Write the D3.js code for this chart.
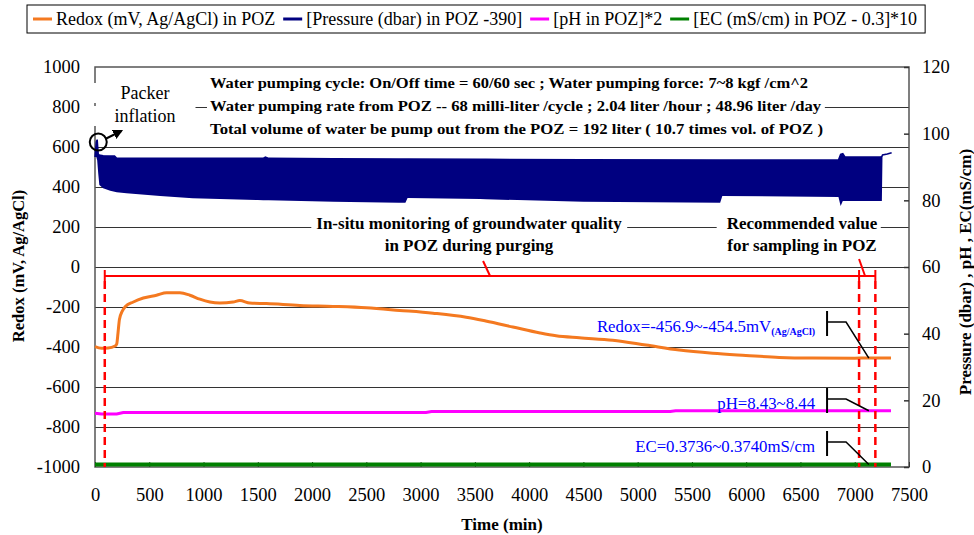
<!DOCTYPE html>
<html>
<head>
<meta charset="utf-8">
<script src="https://cdn.jsdelivr.net/npm/d3@7"></script>
<style>
  body { margin: 0; background: #fff; }
  svg { display: block; font-family: "Liberation Serif", "Times New Roman", serif; }
</style>
</head>
<body>
<svg id="chart" width="974" height="535"></svg>
<script>
// ---------- axis ticks ----------
const timeTicks  = d3.range(0, 7501, 500);      // Time (min)
const redoxTicks = d3.range(-1000, 1001, 200);  // left axis, mV
const rightTicks = d3.range(0, 121, 20);        // right axis

// ---------- Redox (mV, Ag/AgCl) in POZ ----------
const redoxTime  = [0, 60, 120, 185, 200, 212, 225, 250, 280, 353, 445, 567, 660, 782, 874, 966, 1058,
                    1150, 1273, 1334, 1426, 1580, 1886, 2193, 2500, 2807, 3114, 3420, 3600, 3850, 4100,
                    4248, 4463, 4770, 5077, 5383, 5690, 5997, 6304, 6611, 7000, 7100, 7334];
const redoxValue = [-398, -406, -405, -395, -385, -330, -262, -222, -198, -175, -155, -141, -129, -129,
                    -141, -161, -175, -180, -175, -168, -180, -183, -192, -197, -204, -217, -231, -251,
                    -270, -300, -330, -344, -354, -366, -390, -415, -431, -442, -452, -455.5, -456.2,
                    -455.0, -455.3];

// ---------- Pressure (dbar) in POZ: pumping-cycle envelope ----------
const pressTime = [0, 12, 20, 30, 40, 75, 140, 180, 200, 290, 600, 900, 1500, 1550, 1570, 1600, 2200,
                   2800, 2860, 2880, 3550, 3600, 4500, 5760, 5780, 6850, 6870, 6890, 6910, 7240, 7250,
                   7256, 7300, 7340];
const pressHigh = [483.0, 487.5, 488.2, 483.8, 483.6, 483.4, 483.3, 483.3, 482.6, 482.6, 482.6, 482.6,
                   482.6, 482.6, 483.0, 482.6, 482.5, 482.4, 482.4, 482.4, 482.3, 482.3, 482.2, 482.1,
                   482.1, 482.1, 483.8, 484.0, 483.0, 483.0, 483.2, 483.6, 483.9, 484.3];
const pressLow  = [483.0, 483.0, 482.0, 478.0, 474.6, 473.6, 472.9, 472.6, 472.4, 472.1, 471.3, 470.6,
                   470.1, 470.0, 470.0, 470.0, 469.6, 469.3, 469.3, 470.7, 470.4, 470.3, 469.6, 469.3,
                   471.3, 471.0, 468.3, 469.8, 469.8, 469.8, 469.8, 483.6, 483.9, 484.3];

// ---------- pH in POZ ----------
const phTime  = [0, 60, 200, 260, 3050, 3100, 5300, 5350, 7334];
const phValue = [8.07, 7.95, 7.95, 8.18, 8.18, 8.33, 8.33, 8.43, 8.44];

// ---------- EC (mS/cm) in POZ ----------
const ecTime  = [0, 380, 400, 420, 520, 540, 560, 7334];
const ecValue = [0.3736, 0.3736, 0.3752, 0.3736, 0.3736, 0.3750, 0.3737, 0.3738];

// ---------- purging / sampling windows (min) ----------
const purgeStart = 90, sampleStart = 7040, sampleEnd = 7190, windowLevel = -45;

// ---------- texts ----------
const legendLabels = ["Redox (mV, Ag/AgCl) in POZ", "[Pressure (dbar) in POZ -390]",
                      "[pH in POZ]*2", "[EC (mS/cm) in POZ - 0.3]*10"];
const legendColors = ["#F47920", "#000080", "#FF00FF", "#008000"];
const headerLines = [
  "Water pumping cycle: On/Off time = 60/60 sec ; Water pumping force: 7~8 kgf /cm^2",
  "Water pumping rate from POZ -- 68 milli-liter /cycle ; 2.04 liter /hour ; 48.96 liter /day",
  "Total volume of water be pump out from the POZ  = 192 liter ( 10.7 times vol. of POZ )"
];
const headerWidths = [598, 611, 613];

// ---------- layout ----------
const svg = d3.select("#chart");
const L = 95, R = 909, T = 67, B = 467;
const x  = d3.scaleLinear().domain([0, 7500]).range([L, R]);
const yL = d3.scaleLinear().domain([-1000, 1000]).range([B, T]);
const yR = d3.scaleLinear().domain([0, 120]).range([B, T]);

const redox = redoxTime.map((t, i) => ({ t, v: redoxValue[i] }));
const press = pressTime.map((t, i) => ({ t, hi: pressHigh[i] - 390, lo: pressLow[i] - 390 }));
const ph    = phTime.map((t, i) => ({ t, v: phValue[i] * 2 }));
const ec    = ecTime.map((t, i) => ({ t, v: (ecValue[i] - 0.3) * 10 }));

// gridlines
svg.append("g").selectAll("line")
  .data(redoxTicks.filter(v => v > -1000 && v < 1000))
  .join("line")
  .attr("x1", L).attr("x2", R)
  .attr("y1", d => yL(d)).attr("y2", d => yL(d))
  .attr("stroke", "#333").attr("stroke-width", 1).attr("shape-rendering", "crispEdges");

// plot frame
svg.append("rect").attr("x", L).attr("y", T).attr("width", R - L).attr("height", B - T)
  .attr("fill", "none").attr("stroke", "#555").attr("stroke-width", 1.5);

// axes
const plain = d => String(d);
const tickFont = "18.5px";
const gl = svg.append("g").attr("transform", `translate(${L},0)`)
  .call(d3.axisLeft(yL).tickValues(redoxTicks).tickFormat(plain).tickSize(0).tickPadding(15));
const gr = svg.append("g").attr("transform", `translate(${R},0)`)
  .call(d3.axisRight(yR).tickValues(rightTicks).tickFormat(plain).tickSizeInner(-5).tickSizeOuter(0).tickPadding(13));
const gb = svg.append("g").attr("transform", `translate(0,${B})`)
  .call(d3.axisBottom(x).tickValues(timeTicks).tickFormat(plain).tickSizeInner(-5).tickSizeOuter(0).tickPadding(21));
[gl, gr, gb].forEach(g => {
  g.attr("font-family", null).attr("font-size", tickFont);
  g.select(".domain").remove();
  g.selectAll(".tick line").attr("stroke", "#333");
  g.selectAll("text").attr("fill", "#000");
});
gr.selectAll(".tick line").attr("stroke-width", 1.5);

// axis titles
svg.append("text").attr("transform", "translate(24,266) rotate(-90)")
  .attr("text-anchor", "middle").attr("font-weight", "bold").attr("font-size", "16.5px")
  .text("Redox (mV, Ag/AgCl)");
svg.append("text").attr("transform", "translate(971,272) rotate(-90)")
  .attr("text-anchor", "middle").attr("font-weight", "bold").attr("font-size", "17px")
  .text("Pressure (dbar) , pH , EC(mS/cm)");
svg.append("text").attr("x", 502).attr("y", 530)
  .attr("text-anchor", "middle").attr("font-weight", "bold").attr("font-size", "17px")
  .text("Time (min)");

// text block helper: white box behind lines of text
function textBlock(lines, opts) {
  const g = svg.append("g");
  const bg = g.append("g");
  const tx = g.append("g");
  lines.forEach((s, i) => {
    const t = tx.append("text").attr("x", opts.x).attr("y", opts.y[i])
      .attr("text-anchor", opts.anchor || "start")
      .attr("font-weight", opts.weight || "normal")
      .attr("font-size", opts.size)
      .text(s);
    if (opts.widths) t.attr("textLength", opts.widths[i]).attr("lengthAdjust", "spacingAndGlyphs");
  });
  tx.selectAll("text").each(function () {
    const b = this.getBBox();
    bg.append("rect")
      .attr("x", b.x - (opts.padL ?? 3)).attr("y", b.y)
      .attr("width", b.width + (opts.padL ?? 3) + (opts.padR ?? 3)).attr("height", b.height)
      .attr("fill", "#fff");
  });
  return g;
}

textBlock(headerLines, { x: 210, y: [88, 111, 134], size: "14.5px", weight: "bold", widths: headerWidths });
textBlock(["Packer", "inflation"], { x: 145, y: [99, 122], anchor: "middle", size: "18px", padL: 32, padR: 20 });
textBlock(["In-situ monitoring of groundwater quality", "in POZ during purging"],
          { x: 469, y: [229, 251], anchor: "middle", size: "17px", weight: "bold", padL: 5, padR: 5 });
textBlock(["Recommended value", "for sampling in POZ"],
          { x: 802, y: [229, 251], anchor: "middle", size: "17px", weight: "bold", padL: 10, padR: 3 });

// pressure envelope
svg.append("path").datum(press)
  .attr("d", d3.area().x(d => x(d.t)).y0(d => yR(d.lo)).y1(d => yR(d.hi)))
  .attr("fill", "#000080");
svg.append("path").datum(press)
  .attr("d", d3.line().x(d => x(d.t)).y(d => yR(d.hi)))
  .attr("fill", "none").attr("stroke", "#000080").attr("stroke-width", 1.5);

// EC, pH and redox lines
svg.append("path").datum(ec)
  .attr("d", d3.line().x(d => x(d.t)).y(d => yR(d.v)))
  .attr("fill", "none").attr("stroke", "#008000").attr("stroke-width", 4);
svg.append("path").datum(ph)
  .attr("d", d3.line().x(d => x(d.t)).y(d => yR(d.v)))
  .attr("fill", "none").attr("stroke", "#FF00FF").attr("stroke-width", 3);
svg.append("path").datum(redox)
  .attr("d", d3.line().x(d => x(d.t)).y(d => yL(d.v)).curve(d3.curveMonotoneX))
  .attr("fill", "none").attr("stroke", "#F47920").attr("stroke-width", 3);

// purging and sampling windows
const red = "#FF0000";
const wy = yL(windowLevel);
svg.append("line").attr("x1", x(purgeStart)).attr("x2", x(sampleEnd)).attr("y1", wy).attr("y2", wy)
  .attr("stroke", red).attr("stroke-width", 2);
[purgeStart, sampleStart, sampleEnd].forEach(t => {
  svg.append("line").attr("x1", x(t)).attr("x2", x(t)).attr("y1", wy - 6).attr("y2", wy + 5)
    .attr("stroke", red).attr("stroke-width", 2);
  svg.append("line").attr("x1", x(t)).attr("x2", x(t)).attr("y1", wy + 5).attr("y2", B)
    .attr("stroke", red).attr("stroke-width", 2.5).attr("stroke-dasharray", "8,5");
});
// leaders from the window labels
[[3640, -7, -15], [7095, -6, -17]].forEach(([t, dx, dy]) => {
  svg.append("line").attr("x1", x(t) + dx).attr("y1", wy + dy).attr("x2", x(t)).attr("y2", wy)
    .attr("stroke", red).attr("stroke-width", 2);
});

// packer inflation marker
svg.append("defs").append("marker").attr("id", "arrow")
  .attr("viewBox", "0 0 10 10").attr("refX", 8).attr("refY", 5)
  .attr("markerWidth", 5).attr("markerHeight", 5).attr("orient", "auto")
  .append("path").attr("d", "M0,0L10,5L0,10Z").attr("fill", "#000");
const cx = x(30), cy = yR(97.5);
svg.append("circle").attr("cx", cx).attr("cy", cy).attr("r", 8.5)
  .attr("fill", "none").attr("stroke", "#000").attr("stroke-width", 2);
svg.append("line").attr("x1", cx + 7).attr("y1", cy - 3).attr("x2", cx + 23).attr("y2", cy - 11)
  .attr("stroke", "#000").attr("stroke-width", 2).attr("marker-end", "url(#arrow)");

// value callouts at the recommended sampling point
const callT = 7130, barT = 6745, elbowT = 6920;
const callouts = [
  { main: "Redox=-456.9~-454.5mV", sub: "(Ag/AgCl)", target: yL(-455.5), elbow: yL(-275) },
  { main: "pH=8.43~8.44", sub: "", target: yR(8.435 * 2), elbow: yL(-660) },
  { main: "EC=0.3736~0.3740mS/cm", sub: "", target: yR((0.3738 - 0.3) * 10), elbow: yL(-875) }
];
callouts.forEach(c => {
  const xb = x(barT), xe = x(elbowT);
  svg.append("line").attr("x1", xb).attr("x2", xb).attr("y1", c.elbow - 11).attr("y2", c.elbow + 14)
    .attr("stroke", "#000").attr("stroke-width", 2);
  svg.append("path").attr("d", `M${xb},${c.elbow}L${xe},${c.elbow}L${x(callT)},${c.target}`)
    .attr("fill", "none").attr("stroke", "#000").attr("stroke-width", 1.5);
  const t = svg.append("text").attr("x", xb - 12).attr("y", c.elbow + 10)
    .attr("text-anchor", "end").attr("fill", "#0000FF").attr("font-size", "16.8px");
  t.append("tspan").text(c.main);
  if (c.sub) t.append("tspan").attr("font-size", "10px").attr("font-weight", "bold")
    .attr("dy", 3).text(c.sub);
});

// legend
const lg = svg.append("g");
let lx = 33;
legendLabels.forEach((s, i) => {
  lg.append("line").attr("x1", lx).attr("x2", lx + 19).attr("y1", 19).attr("y2", 19)
    .attr("stroke", legendColors[i]).attr("stroke-width", 3);
  const t = lg.append("text").attr("x", lx + 23).attr("y", 24.5).attr("font-size", "18px").text(s);
  lx += 23 + t.node().getComputedTextLength() + 8;
});
lg.insert("rect", ":first-child").attr("x", 27).attr("y", 5).attr("width", lx - 27).attr("height", 28)
  .attr("fill", "#fff").attr("stroke", "#000").attr("stroke-width", 1);
</script>
</body>
</html>
